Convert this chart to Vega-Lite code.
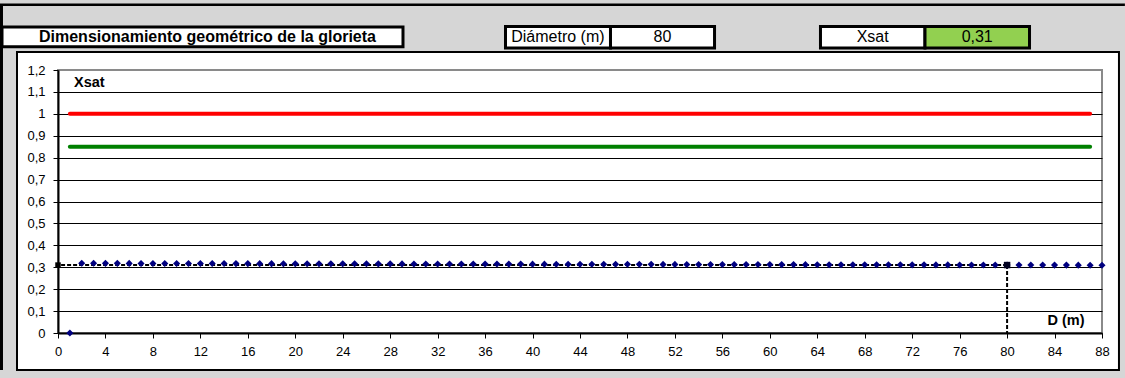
{
  "$schema": "https://vega.github.io/schema/vega-lite/v6.json",
  "width": 1044,
  "height": 263,
  "autosize": {"type": "none"},
  "padding": {"left": 58, "top": 70, "right": 23, "bottom": 45},
  "background": "white",
  "config": {
    "font": "Liberation Sans",
    "locale": {"number": {"decimal": ",", "thousands": ".", "grouping": [3], "currency": ["", " €"]}},
    "view": {"fill": "white", "stroke": "#8a8a8a", "strokeWidth": 2}
  },
  "resolve": {"axis": {"x": "independent", "y": "independent"}},
  "datasets": {
    "xsat": [
      {"D": 1, "Xsat": 0},
      {"D": 2, "Xsat": 0.318}, {"D": 3, "Xsat": 0.3179}, {"D": 4, "Xsat": 0.3178}, {"D": 5, "Xsat": 0.3177},
      {"D": 6, "Xsat": 0.3176}, {"D": 7, "Xsat": 0.3175}, {"D": 8, "Xsat": 0.3174}, {"D": 9, "Xsat": 0.3173},
      {"D": 10, "Xsat": 0.3172}, {"D": 11, "Xsat": 0.3171}, {"D": 12, "Xsat": 0.317}, {"D": 13, "Xsat": 0.3169},
      {"D": 14, "Xsat": 0.3168}, {"D": 15, "Xsat": 0.3167}, {"D": 16, "Xsat": 0.3166}, {"D": 17, "Xsat": 0.3165},
      {"D": 18, "Xsat": 0.3164}, {"D": 19, "Xsat": 0.3163}, {"D": 20, "Xsat": 0.3162}, {"D": 21, "Xsat": 0.3161},
      {"D": 22, "Xsat": 0.316}, {"D": 23, "Xsat": 0.3159}, {"D": 24, "Xsat": 0.3158}, {"D": 25, "Xsat": 0.3157},
      {"D": 26, "Xsat": 0.3156}, {"D": 27, "Xsat": 0.3155}, {"D": 28, "Xsat": 0.3154}, {"D": 29, "Xsat": 0.3153},
      {"D": 30, "Xsat": 0.3152}, {"D": 31, "Xsat": 0.3151}, {"D": 32, "Xsat": 0.315}, {"D": 33, "Xsat": 0.3149},
      {"D": 34, "Xsat": 0.3148}, {"D": 35, "Xsat": 0.3147}, {"D": 36, "Xsat": 0.3146}, {"D": 37, "Xsat": 0.3145},
      {"D": 38, "Xsat": 0.3144}, {"D": 39, "Xsat": 0.3143}, {"D": 40, "Xsat": 0.3142}, {"D": 41, "Xsat": 0.3141},
      {"D": 42, "Xsat": 0.314}, {"D": 43, "Xsat": 0.3139}, {"D": 44, "Xsat": 0.3138}, {"D": 45, "Xsat": 0.3137},
      {"D": 46, "Xsat": 0.3136}, {"D": 47, "Xsat": 0.3135}, {"D": 48, "Xsat": 0.3134}, {"D": 49, "Xsat": 0.3133},
      {"D": 50, "Xsat": 0.3132}, {"D": 51, "Xsat": 0.3131}, {"D": 52, "Xsat": 0.313}, {"D": 53, "Xsat": 0.3129},
      {"D": 54, "Xsat": 0.3128}, {"D": 55, "Xsat": 0.3127}, {"D": 56, "Xsat": 0.3126}, {"D": 57, "Xsat": 0.3125},
      {"D": 58, "Xsat": 0.3124}, {"D": 59, "Xsat": 0.3123}, {"D": 60, "Xsat": 0.3122}, {"D": 61, "Xsat": 0.3121},
      {"D": 62, "Xsat": 0.312}, {"D": 63, "Xsat": 0.3119}, {"D": 64, "Xsat": 0.3118}, {"D": 65, "Xsat": 0.3117},
      {"D": 66, "Xsat": 0.3116}, {"D": 67, "Xsat": 0.3115}, {"D": 68, "Xsat": 0.3114}, {"D": 69, "Xsat": 0.3113},
      {"D": 70, "Xsat": 0.3112}, {"D": 71, "Xsat": 0.3111}, {"D": 72, "Xsat": 0.311}, {"D": 73, "Xsat": 0.3109},
      {"D": 74, "Xsat": 0.3108}, {"D": 75, "Xsat": 0.3107}, {"D": 76, "Xsat": 0.3106}, {"D": 77, "Xsat": 0.3105},
      {"D": 78, "Xsat": 0.3104}, {"D": 79, "Xsat": 0.3103}, {"D": 80, "Xsat": 0.3102}, {"D": 81, "Xsat": 0.3101},
      {"D": 82, "Xsat": 0.31}, {"D": 83, "Xsat": 0.3099}, {"D": 84, "Xsat": 0.3098}, {"D": 85, "Xsat": 0.3097},
      {"D": 86, "Xsat": 0.3096}, {"D": 87, "Xsat": 0.3095}, {"D": 88, "Xsat": 0.3094}
    ],
    "umbrales": [
      {"D": 1, "Xsat": 1, "umbral": "máximo"},
      {"D": 87, "Xsat": 1, "umbral": "máximo"},
      {"D": 1, "Xsat": 0.85, "umbral": "recomendado"},
      {"D": 87, "Xsat": 0.85, "umbral": "recomendado"}
    ],
    "diseno": [{"D": 80, "Xsat": 0.31}]
  },
  "layer": [
    {
      "description": "saturation thresholds; this layer carries both axes",
      "data": {"name": "umbrales"},
      "mark": {"type": "line", "strokeWidth": 4, "strokeCap": "round"},
      "encoding": {
        "x": {
          "field": "D", "type": "quantitative",
          "scale": {"domain": [0, 88], "nice": false, "zero": false},
          "axis": {
            "title": null, "values": [0, 4, 8, 12, 16, 20, 24, 28, 32, 36, 40, 44, 48, 52, 56, 60, 64, 68, 72, 76, 80, 84, 88],
            "format": "d", "grid": false, "labelFlush": false, "labelOverlap": false,
            "domainColor": "black", "domainWidth": 2,
            "tickColor": "black", "tickSize": 5, "tickWidth": 1,
            "labelFont": "Liberation Sans", "labelFontSize": 13, "labelColor": "black", "labelPadding": 7
          }
        },
        "y": {
          "field": "Xsat", "type": "quantitative",
          "scale": {"domain": [0, 1.2], "nice": false, "zero": false},
          "axis": {
            "title": null, "values": [0, 0.1, 0.2, 0.3, 0.4, 0.5, 0.6, 0.7, 0.8, 0.9, 1, 1.1, 1.2],
            "format": ".1~f", "grid": true, "gridColor": "black", "gridWidth": 1,
            "gridOpacity": {"condition": {"test": "datum.value > 1.15", "value": 0}, "value": 1},
            "domainColor": "black", "domainWidth": 2,
            "tickColor": "black", "tickSize": 5, "tickWidth": 1, "labelOverlap": false,
            "labelFont": "Liberation Sans", "labelFontSize": 13, "labelColor": "black", "labelPadding": 8
          }
        },
        "color": {
          "field": "umbral", "type": "nominal",
          "scale": {"domain": ["máximo", "recomendado"], "range": ["#ff0000", "#008000"]},
          "legend": null
        }
      }
    },
    {
      "description": "sheet background around the chart area",
      "data": {"values": [{}]},
      "mark": {"type": "rect", "filled": false, "stroke": "#d6d6d6", "strokeWidth": 110},
      "encoding": {
        "x": {"datum": -8.09, "axis": null}, "x2": {"datum": 94.07},
        "y": {"datum": 1.5331, "axis": null}, "y2": {"datum": -0.4198}
      }
    },
    {
      "description": "chart area border",
      "data": {"values": [{}]},
      "mark": {"type": "rect", "filled": false, "stroke": "black", "strokeWidth": 2},
      "encoding": {
        "x": {"datum": -3.456, "axis": null}, "x2": {"datum": 89.43},
        "y": {"datum": 1.2821, "axis": null}, "y2": {"datum": -0.1688}
      }
    },
    {
      "description": "sheet cell borders",
      "data": {"values": [{}]},
      "mark": {"type": "rule", "color": "black", "strokeWidth": 2.5},
      "encoding": {"x": {"datum": -4.889, "axis": null}, "x2": {"datum": 89.93}, "y": {"datum": 1.4979, "axis": null}}
    },
    {
      "data": {"values": [{}]},
      "mark": {"type": "rule", "color": "black", "strokeWidth": 3},
      "encoding": {"x": {"datum": -4.763, "axis": null}, "y": {"datum": 1.4979, "axis": null}, "y2": {"datum": -0.1688}}
    },
    {
      "description": "title cell",
      "data": {"values": [{}]},
      "mark": {"type": "rect", "fill": "white", "stroke": "black", "strokeWidth": 3},
      "encoding": {
        "x": {"datum": -4.72, "axis": null}, "x2": {"datum": 29.08},
        "y": {"datum": 1.3962, "axis": null}, "y2": {"datum": 1.3058}
      }
    },
    {
      "data": {"values": [{}]},
      "mark": {"type": "text", "text": "Dimensionamiento geométrico de la glorieta", "fontWeight": "bold", "fontSize": 16, "align": "center", "baseline": "middle", "color": "black"},
      "encoding": {"x": {"datum": 12.6, "axis": null}, "y": {"datum": 1.351, "axis": null}}
    },
    {
      "description": "diameter cells",
      "data": {"values": [{}]},
      "mark": {"type": "rect", "fill": "white", "stroke": "black", "strokeWidth": 3},
      "encoding": {
        "x": {"datum": 37.72, "axis": null}, "x2": {"datum": 46.57},
        "y": {"datum": 1.3985, "axis": null}, "y2": {"datum": 1.3005}
      }
    },
    {
      "data": {"values": [{}]},
      "mark": {"type": "rect", "fill": "white", "stroke": "black", "strokeWidth": 3},
      "encoding": {
        "x": {"datum": 46.57, "axis": null}, "x2": {"datum": 55.34},
        "y": {"datum": 1.3985, "axis": null}, "y2": {"datum": 1.3005}
      }
    },
    {
      "data": {"values": [{}]},
      "mark": {"type": "text", "text": "Diámetro (m)", "fontSize": 16, "align": "center", "baseline": "middle", "color": "black"},
      "encoding": {"x": {"datum": 42.14, "axis": null}, "y": {"datum": 1.3495, "axis": null}}
    },
    {
      "data": {"name": "diseno"},
      "mark": {"type": "text", "fontSize": 16, "align": "center", "baseline": "middle", "color": "black"},
      "encoding": {"text": {"field": "D", "type": "quantitative", "format": "d"}, "x": {"datum": 50.95, "axis": null}, "y": {"datum": 1.3495, "axis": null}}
    },
    {
      "description": "saturation cells",
      "data": {"values": [{}]},
      "mark": {"type": "rect", "fill": "white", "stroke": "black", "strokeWidth": 3},
      "encoding": {
        "x": {"datum": 64.27, "axis": null}, "x2": {"datum": 73.08},
        "y": {"datum": 1.3985, "axis": null}, "y2": {"datum": 1.3005}
      }
    },
    {
      "data": {"values": [{}]},
      "mark": {"type": "rect", "fill": "#92d050", "stroke": "black", "strokeWidth": 3},
      "encoding": {
        "x": {"datum": 73.08, "axis": null}, "x2": {"datum": 81.89},
        "y": {"datum": 1.3985, "axis": null}, "y2": {"datum": 1.3005}
      }
    },
    {
      "data": {"values": [{}]},
      "mark": {"type": "text", "text": "Xsat", "fontSize": 16, "align": "center", "baseline": "middle", "color": "black"},
      "encoding": {"x": {"datum": 68.67, "axis": null}, "y": {"datum": 1.3495, "axis": null}}
    },
    {
      "data": {"name": "diseno"},
      "mark": {"type": "text", "fontSize": 16, "align": "center", "baseline": "middle", "color": "black"},
      "encoding": {"text": {"field": "Xsat", "type": "quantitative", "format": ".2f"}, "x": {"datum": 77.48, "axis": null}, "y": {"datum": 1.3495, "axis": null}}
    },
    {
      "description": "design diameter guides",
      "data": {"name": "diseno"},
      "mark": {"type": "rule", "color": "black", "strokeWidth": 2, "strokeDash": [4, 2]},
      "encoding": {
        "x": {"field": "D", "type": "quantitative", "axis": null}, "x2": {"datum": 0},
        "y": {"field": "Xsat", "type": "quantitative", "axis": null}
      }
    },
    {
      "data": {"name": "diseno"},
      "mark": {"type": "rule", "color": "black", "strokeWidth": 2, "strokeDash": [4, 2]},
      "encoding": {
        "x": {"field": "D", "type": "quantitative", "axis": null},
        "y": {"field": "Xsat", "type": "quantitative", "axis": null}, "y2": {"datum": 0}
      }
    },
    {
      "description": "Xsat by diameter",
      "data": {"name": "xsat"},
      "mark": {"type": "point", "shape": "diamond", "filled": true, "size": 50, "color": "#000080", "opacity": 1},
      "encoding": {
        "x": {"field": "D", "type": "quantitative", "axis": null},
        "y": {"field": "Xsat", "type": "quantitative", "axis": null}
      }
    },
    {
      "data": {"name": "diseno"},
      "mark": {"type": "point", "shape": "square", "filled": true, "size": 30, "color": "black", "opacity": 1},
      "encoding": {"x": {"datum": 0, "axis": null}, "y": {"field": "Xsat", "type": "quantitative", "axis": null}}
    },
    {
      "data": {"name": "diseno"},
      "mark": {"type": "point", "shape": "square", "filled": true, "size": 42, "color": "#000020", "opacity": 1},
      "encoding": {"x": {"field": "D", "type": "quantitative", "axis": null}, "y": {"field": "Xsat", "type": "quantitative", "axis": null}}
    },
    {
      "data": {"values": [{}]},
      "mark": {"type": "text", "text": "Xsat", "fontWeight": "bold", "fontSize": 14.5, "align": "left", "baseline": "middle", "color": "black"},
      "encoding": {"x": {"datum": 1.35, "axis": null}, "y": {"datum": 1.14, "axis": null}}
    },
    {
      "data": {"values": [{}]},
      "mark": {"type": "text", "text": "D (m)", "fontWeight": "bold", "fontSize": 14.5, "align": "left", "baseline": "middle", "color": "black"},
      "encoding": {"x": {"datum": 83.4, "axis": null}, "y": {"datum": 0.0525, "axis": null}}
    }
  ]
}
